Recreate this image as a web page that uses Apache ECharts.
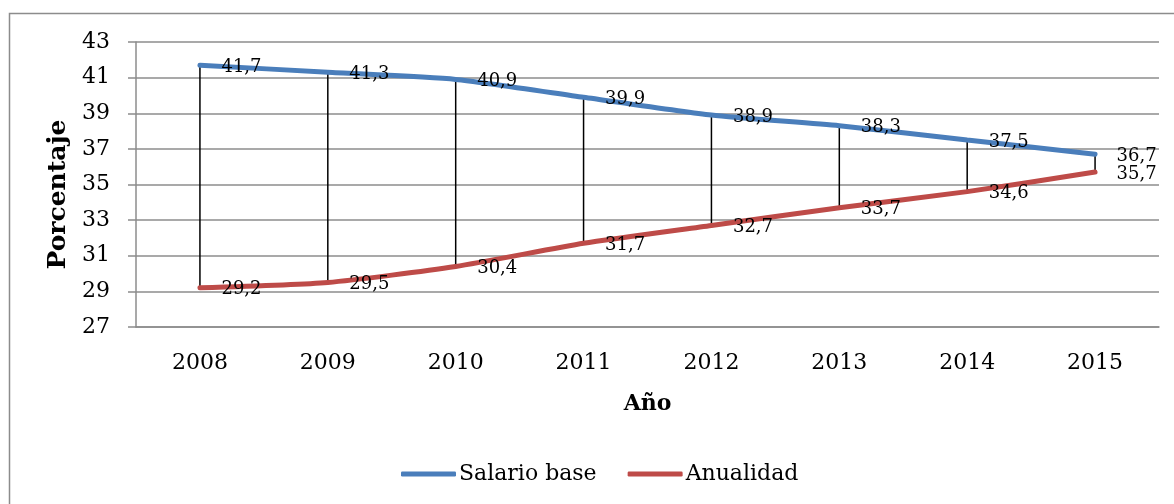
<!DOCTYPE html>
<html>
<head>
<meta charset="utf-8">
<script src="https://cdn.jsdelivr.net/npm/echarts@6/dist/echarts.min.js"></script>
<style>
    html, body {margin:0;padding:0;background:#fff}
    #chart {width:1174px;height:504px}
</style>
</head>
<body>
<div id="chart"></div>
<script>
    var years = ['2008', '2009', '2010', '2011', '2012', '2013', '2014', '2015'];
    var salarioBase = [41.7, 41.3, 40.9, 39.9, 38.9, 38.3, 37.5, 36.7];
    var anualidad = [29.2, 29.5, 30.4, 31.7, 32.7, 33.7, 34.6, 35.7];

    var serif = '"DejaVu Serif", "Liberation Serif", serif';

    // lineas verticales entre las dos series
    var hiLow = years.map(function (y, i) {
        return [i, salarioBase[i], anualidad[i]];
    });

    function fmt(p) {
        return String(p.value).replace('.', ',');
    }

    var chart = echarts.init(document.getElementById('chart'));
    var option = {
        animation: false,
        backgroundColor: '#fff',
        graphic: [{
            type: 'rect',
            shape: {x: 9.5, y: 13.5, width: 1200, height: 520},
            style: {fill: 'none', stroke: '#8c8c8c', lineWidth: 1.5},
            silent: true
        }],
        grid: {left: 136, right: 15, top: 42, bottom: 177},
        legend: {
            bottom: 14,
            left: 396,
            itemWidth: 55,
            itemHeight: 5,
            itemGap: 31,
            data: ['Salario base', 'Anualidad'],
            textStyle: {fontFamily: serif, fontSize: 22, color: '#000', padding: [0, 0, 0, -2]},
            icon: 'roundRect'
        },
        xAxis: {
            type: 'category',
            data: years,
            boundaryGap: true,
            name: 'Año',
            nameLocation: 'middle',
            nameGap: 66,
            nameTextStyle: {fontFamily: serif, fontSize: 22, fontWeight: 'bold', color: '#000'},
            axisLine: {lineStyle: {color: '#8c8c8c', width: 1.5}},
            axisTick: {show: false},
            axisLabel: {fontFamily: serif, fontSize: 22, color: '#000', margin: 25}
        },
        yAxis: {
            type: 'value',
            min: 27,
            max: 43,
            interval: 2,
            name: 'Porcentaje',
            nameLocation: 'middle',
            nameGap: 61,
            nameTextStyle: {fontFamily: serif, fontSize: 25, fontWeight: 'bold', color: '#000', padding: [0, 20, 0, 0]},
            axisLine: {show: true, lineStyle: {color: '#8c8c8c', width: 1.5}},
            axisTick: {show: true, length: 8, lineStyle: {color: '#8c8c8c', width: 1.5}},
            axisLabel: {fontFamily: serif, fontSize: 22, color: '#000', margin: 26},
            splitLine: {lineStyle: {color: '#8c8c8c', width: 1.5}}
        },
        series: [
            {
                type: 'custom',
                silent: true,
                z: 1,
                renderItem: function (params, api) {
                    var top = api.coord([api.value(0), api.value(1)]);
                    var bot = api.coord([api.value(0), api.value(2)]);
                    return {
                        type: 'line',
                        shape: {x1: top[0], y1: top[1], x2: bot[0], y2: bot[1]},
                        style: {stroke: '#000', lineWidth: 1.5}
                    };
                },
                encode: {x: 0, y: [1, 2]},
                data: hiLow
            },
            {
                name: 'Salario base',
                type: 'line',
                data: salarioBase,
                smooth: 0.2,
                symbol: 'circle',
                symbolSize: 1,
                showSymbol: true,
                z: 3,
                lineStyle: {color: '#4a7ebb', width: 5, cap: 'round'},
                itemStyle: {color: '#4a7ebb'},
                label: {
                    show: true, position: 'right', distance: 21,
                    offset: [0, 2],
                    fontFamily: serif, fontSize: 18, color: '#000',
                    formatter: fmt
                }
            },
            {
                name: 'Anualidad',
                type: 'line',
                data: anualidad,
                smooth: 0.2,
                symbol: 'circle',
                symbolSize: 1,
                showSymbol: true,
                z: 3,
                lineStyle: {color: '#be4b48', width: 5, cap: 'round'},
                itemStyle: {color: '#be4b48'},
                label: {
                    show: true, position: 'right', distance: 21,
                    offset: [0, 2],
                    fontFamily: serif, fontSize: 18, color: '#000',
                    formatter: fmt
                }
            }
        ]
    };
    chart.setOption(option);
</script>
</body>
</html>
